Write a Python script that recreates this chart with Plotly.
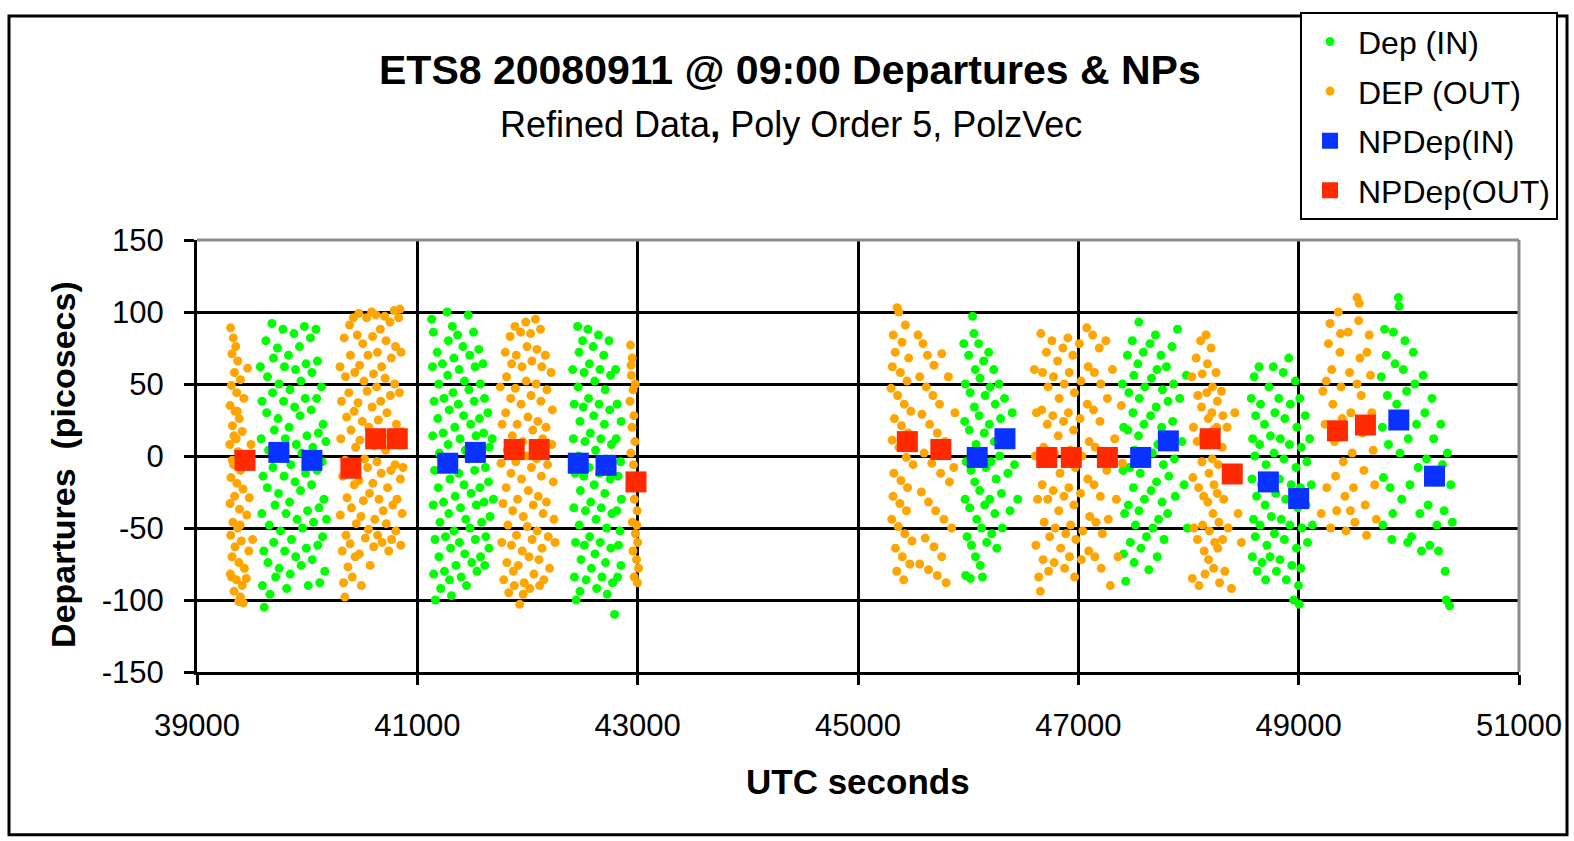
import plotly.graph_objects as go

# ---------------- data ----------------
# Dep (IN) point clouds, (UTC seconds, departure ps)
dep_in_a = [(39575,62),(39590,38),(39582,12),(39600,-14),(39588,-40),(39606,-66),(39594,-90),(39610,-105),(39625,80),(39640,55),(39632,30),(39650,4),(39638,-22),(39656,-48),(39644,-74),(39662,-96),(39680,92),(39694,68),(39686,44),(39702,18),(39690,-8),(39708,-34),(39696,-60),(39714,-84),(39730,75),(39744,50),(39736,26),(39752,0),(39740,-26),(39758,-52),(39746,-78),(39780,88),(39794,62),(39786,38),(39802,12),(39790,-14),(39808,-40),(39796,-66),(39814,-92),(39830,70),(39844,46),(39836,20),(39852,-6),(39840,-32),(39858,-58),(39846,-82),(39880,85),(39894,60),(39886,34),(39902,8),(39890,-18),(39908,-44),(39896,-70),(39930,76),(39944,52),(39936,28),(39952,2),(39940,-24),(39958,-50),(39946,-76),(39975,90),(39990,64),(39982,40),(39998,14),(39986,-12),(40004,-38),(39992,-64),(40010,-90),(40030,82),(40044,58),(40036,32),(40052,6),(40040,-20),(40058,-46),(40046,-72),(40080,88),(40094,66),(40086,40),(40102,16),(40090,-10),(40108,-36),(40096,-62),(40114,-88),(40130,48),(40144,22),(40136,-4),(40152,-30),(40140,-56),(40160,-80),(40170,10),(40175,-44)]
dep_in_b = [(41130,95),(41145,86),(41138,62),(41152,38),(41140,14),(41156,-10),(41144,-34),(41160,-58),(41148,-82),(41164,-100),(41180,72),(41194,50),(41186,26),(41200,2),(41190,-22),(41206,-46),(41196,-70),(41212,-92),(41228,64),(41242,40),(41234,16),(41250,-8),(41238,-32),(41256,-56),(41246,-80),(41270,100),(41282,80),(41276,56),(41290,32),(41280,8),(41296,-16),(41286,-40),(41302,-64),(41292,-86),(41318,90),(41332,68),(41324,44),(41340,20),(41328,-4),(41344,-28),(41334,-52),(41350,-76),(41366,84),(41380,60),(41372,36),(41388,12),(41376,-12),(41392,-36),(41382,-60),(41398,-84),(41414,76),(41428,52),(41420,28),(41436,4),(41424,-20),(41440,-44),(41430,-68),(41446,-90),(41462,98),(41476,70),(41468,46),(41484,22),(41472,-2),(41488,-26),(41478,-50),(41494,-74),(41510,86),(41524,62),(41516,38),(41532,14),(41520,-10),(41536,-34),(41526,-58),(41542,-80),(41558,74),(41572,50),(41564,26),(41580,2),(41568,-22),(41584,-46),(41574,-70),(41596,64),(41610,40),(41602,16),(41618,-8),(41606,-32),(41622,-56),(41612,-76),(41640,30),(41654,6),(41646,-18),(41660,-42),(41650,-64),(41680,12),(41690,-30),(41310,-97)]
dep_in_c = [(42410,60),(42424,36),(42416,12),(42432,-12),(42420,-36),(42436,-60),(42426,-84),(42442,-100),(42455,90),(42468,72),(42460,48),(42476,24),(42464,0),(42480,-24),(42470,-48),(42486,-72),(42476,-94),(42500,80),(42514,58),(42506,34),(42522,10),(42510,-14),(42526,-38),(42516,-62),(42532,-86),(42548,88),(42562,64),(42554,40),(42570,16),(42558,-8),(42574,-32),(42564,-56),(42580,-78),(42596,76),(42610,52),(42602,28),(42618,4),(42606,-20),(42622,-44),(42612,-68),(42628,-92),(42644,84),(42658,60),(42650,36),(42666,12),(42654,-12),(42670,-36),(42660,-60),(42676,-84),(42692,70),(42706,46),(42698,22),(42714,-2),(42702,-26),(42718,-50),(42708,-74),(42724,-96),(42740,80),(42754,56),(42746,32),(42762,8),(42750,-16),(42766,-40),(42756,-64),(42772,-88),(42790,-110),(42800,60),(42814,36),(42806,12),(42822,-14),(42810,-38),(42826,-62),(42818,-84),(42850,24),(42845,-4),(42852,-30),(42840,-52),(42848,-76)]
dep_in_d = [(45960,78),(45975,50),(45968,24),(45982,-4),(45972,-30),(45990,-56),(45978,-83),(46005,70),(46018,44),(46010,18),(46026,-10),(46014,-36),(46030,-62),(46040,97),(46052,85),(46064,60),(46056,34),(46072,8),(46060,-18),(46078,-44),(46066,-70),(46095,78),(46108,54),(46100,28),(46116,2),(46104,-24),(46122,-50),(46110,-76),(46140,66),(46154,42),(46146,16),(46162,-8),(46150,-34),(46168,-60),(46186,72),(46200,48),(46192,22),(46208,-4),(46196,-30),(46214,-54),(46232,60),(46246,36),(46238,10),(46254,-16),(46242,-40),(46260,-64),(46280,50),(46294,26),(46286,0),(46302,-26),(46310,-50),(46330,40),(46345,14),(46360,-12),(46380,-38),(46400,30),(46420,-6),(46450,-30),(46020,-85),(46130,-84)]
dep_in_e = [(47400,50),(47412,20),(47406,-10),(47420,-40),(47410,-68),(47430,-87),(47445,70),(47458,44),(47450,18),(47466,-8),(47454,-34),(47472,-60),(47490,80),(47504,56),(47496,30),(47512,4),(47500,-22),(47518,-48),(47506,-74),(47549,93),(47540,64),(47554,40),(47546,14),(47562,-12),(47550,-38),(47568,-64),(47590,72),(47604,48),(47596,22),(47612,-4),(47600,-30),(47618,-56),(47640,-79),(47650,78),(47664,54),(47656,28),(47672,2),(47660,-24),(47678,-50),(47700,84),(47714,60),(47706,34),(47722,8),(47710,-18),(47728,-44),(47716,-70),(47750,70),(47764,46),(47756,20),(47772,-6),(47760,-32),(47778,-58),(47800,62),(47814,38),(47806,12),(47822,-14),(47810,-40),(47850,76),(47864,50),(47856,24),(47872,-2),(47880,-28),(47900,88),(47920,40),(47940,10),(47960,-20),(47980,56),(47990,-50)]
dep_in_f = [(48570,40),(48582,12),(48576,-16),(48590,-44),(48580,-70),(48596,55),(48610,28),(48602,0),(48618,-28),(48606,-56),(48624,-80),(48640,62),(48654,36),(48646,8),(48662,-20),(48650,-48),(48668,-74),(48690,22),(48704,-6),(48696,-34),(48712,-62),(48700,-86),(48730,48),(48744,14),(48736,-14),(48752,-42),(48740,-70),(48770,62),(48784,30),(48776,2),(48792,-26),(48780,-54),(48798,-80),(48820,40),(48834,12),(48826,-16),(48842,-44),(48830,-72),(48860,58),(48874,26),(48866,-2),(48882,-30),(48870,-58),(48888,-86),(48910,68),(48924,36),(48916,8),(48932,-20),(48920,-48),(48938,-76),(48955,-100),(48970,52),(48984,20),(48976,-8),(48992,-36),(48980,-64),(48998,-90),(49010,40),(49024,6),(49016,-22),(49030,-50),(49020,-78),(49005,-103),(49060,28),(49074,-4),(49066,-34),(49080,-60),(49100,12),(49115,-20),(49125,-48)]
dep_in_g = [(49750,55),(49760,20),(49770,-15),(49765,-48),(49780,88),(49795,70),(49805,42),(49815,8),(49830,-22),(49845,-58),(49860,86),(49875,64),(49890,36),(49905,110),(49912,104),(49920,2),(49935,-30),(49950,60),(49965,80),(49980,45),(49995,12),(50010,-20),(50025,-56),(50040,72),(50055,50),(50070,22),(50085,-8),(50100,-40),(50115,-66),(50130,56),(50145,30),(50160,-2),(50175,-34),(50190,-62),(50210,40),(50225,12),(50240,-18),(50255,-48),(50270,-66),(50290,22),(50305,-6),(50320,-38),(50330,-80),(50340,-100),(50370,-104),(50380,-20),(50395,-46),(50350,2),(49990,-60),(49855,-40)]

# DEP (OUT) point clouds
dep_out_a = [(39305,89),(39330,82),(39352,76),(39318,71),(39370,66),(39340,58),(39395,53),(39312,49),(39360,44),(39425,40),(39300,35),(39345,31),(39384,26),(39322,21),(39410,17),(39356,12),(39298,8),(39372,3),(39440,-1),(39333,-6),(39395,-10),(39308,-15),(39362,-19),(39418,-23),(39341,-28),(39300,-33),(39386,-37),(39452,-41),(39326,-46),(39369,-50),(39306,-55),(39402,-59),(39345,-63),(39470,-66),(39318,-70),(39380,-74),(39430,-78),(39302,-82),(39358,-86),(39410,-90),(39336,-94),(39395,-98),(39420,-102),(39378,-101),(39475,-29),(39490,8),(39505,-58),(39460,61),(39335,14),(39392,-48),(39314,-84),(39366,31),(39448,-85),(39320,-3)]
dep_out_b = [(40298,62),(40312,38),(40305,12),(40322,-14),(40301,-41),(40318,-66),(40330,-88),(40342,-98),(40336,82),(40348,55),(40358,27),(40344,-3),(40362,-29),(40352,-55),(40370,-77),(40385,91),(40392,70),(40378,44),(40398,18),(40386,-9),(40402,-36),(40390,-61),(40410,-84),(40420,96),(40432,58),(40426,31),(40440,6),(40428,-20),(40446,-47),(40436,-70),(40455,84),(40468,99),(40476,63),(40462,37),(40480,11),(40470,-17),(40488,-42),(40474,-68),(40492,-90),(40505,78),(40516,52),(40500,24),(40522,-2),(40510,-31),(40528,-57),(40540,96),(40552,70),(40544,45),(40560,20),(40548,-8),(40566,-26),(40556,-51),(40572,-76),(40585,100),(40594,83),(40602,57),(40590,34),(40608,7),(40596,-19),(40614,-44),(40604,-63),(40625,98),(40638,72),(40630,48),(40646,25),(40634,-4),(40652,-30),(40640,-55),(40664,88),(40676,62),(40668,38),(40684,14),(40672,-12),(40690,-38),(40680,-60),(40704,97),(40716,80),(40708,54),(40724,30),(40712,4),(40730,-22),(40718,-47),(40740,-66),(40752,93),(40764,68),(40756,42),(40772,16),(40760,-10),(40778,-34),(40766,-58),(40790,101),(40802,76),(40794,50),(40810,22),(40798,-6),(40816,-30),(40804,-52),(40830,96),(40842,102),(40852,72),(40838,44),(40858,17),(40846,-16),(40862,-40),(40850,-62),(40870,-8)]
dep_out_c = [(41752,48),(41770,22),(41760,-5),(41778,-33),(41766,-60),(41784,-86),(41798,72),(41810,55),(41802,30),(41818,4),(41806,-22),(41822,-48),(41812,-74),(41830,-95),(41842,83),(41856,64),(41848,40),(41862,14),(41850,-12),(41866,-38),(41854,-62),(41872,-80),(41886,90),(41898,70),(41890,47),(41906,22),(41894,-4),(41910,-30),(41900,-55),(41916,-76),(41930,-103),(41938,86),(41950,62),(41942,36),(41958,10),(41946,-16),(41962,-42),(41952,-66),(41970,-88),(41984,93),(41996,76),(41988,52),(42004,27),(41992,0),(42008,-24),(41998,-49),(42014,-70),(42028,85),(42040,66),(42032,42),(42048,18),(42036,-8),(42052,-34),(42042,-58),(42058,-82),(42072,95),(42086,74),(42078,50),(42094,24),(42082,-2),(42098,-28),(42088,-52),(42104,-72),(42118,88),(42130,62),(42122,38),(42138,12),(42126,-14),(42142,-40),(42132,-64),(42148,-86),(42162,70),(42176,46),(42168,20),(42182,-6),(42172,-32),(42188,-56),(42200,-78),(42214,58),(42226,32),(42220,8),(42234,-18),(42240,-44),(42250,-60),(41880,-90),(41960,-96),(42020,-92),(42110,-90)]
dep_out_d = [(42935,77),(42950,68),(42942,56),(42958,46),(42930,38),(42966,28),(42948,20),(42975,10),(42938,2),(42962,-6),(42985,-14),(42944,-22),(42970,-30),(42995,-38),(42952,-46),(42980,-54),(43000,-60),(42958,-66),(42990,-72),(43008,-78),(42968,-84),(42998,-88),(42940,63),(42978,50),(42955,-16),(42992,-48)]
dep_out_e = [(45355,103),(45370,100),(45430,91),(45320,84),(45400,79),(45338,72),(45460,68),(45312,62),(45385,58),(45445,52),(45300,47),(45360,42),(45420,36),(45480,31),(45330,26),(45395,21),(45455,16),(45310,11),(45372,6),(45438,-1),(45500,-6),(45325,-12),(45390,-17),(45450,-22),(45318,-28),(45380,-33),(45440,-38),(45306,-44),(45365,-49),(45425,-54),(45490,-59),(45340,-64),(45402,-70),(45470,-75),(45352,-80),(45415,-86),(45545,84),(45590,78),(45630,70),(45690,63),(45560,55),(45620,48),(45680,42),(45740,36),(45580,29),(45650,22),(45720,16),(45790,10),(45600,2),(45670,-5),(45750,-12),(45830,-18),(45575,-25),(45640,-32),(45705,-38),(45780,-44),(45850,-50),(45610,-57),(45690,-63),(45760,-70),(45560,-75),(45640,-79),(45720,-83),(45800,-88),(45870,-8),(45880,30),(45820,55),(45760,71)]
dep_out_f = [(46600,60),(46620,30),(46610,0),(46630,-30),(46615,-62),(46640,-84),(46660,85),(46675,58),(46668,32),(46685,6),(46672,-20),(46690,-46),(46680,-72),(46655,-94),(46710,72),(46725,48),(46718,22),(46735,-4),(46722,-30),(46740,-56),(46730,-80),(46760,80),(46775,55),(46768,28),(46785,2),(46772,-24),(46790,-50),(46780,-74),(46812,66),(46826,40),(46818,14),(46834,-12),(46822,-38),(46840,-64),(46860,75),(46872,50),(46866,24),(46880,-2),(46870,-28),(46886,-54),(46876,-78),(46905,82),(46918,58),(46910,30),(46926,4),(46914,-22),(46930,-48),(46920,-70),(46950,70),(46964,44),(46956,18),(46972,-8),(46960,-34),(46978,-58),(46966,-84),(47010,78),(47024,52),(47016,26),(47032,0),(47020,-26),(47040,-52),(47028,-72),(47076,89),(47090,62),(47082,36),(47098,10),(47086,-16),(47104,-42),(47094,-66),(47130,84),(47146,58),(47138,32),(47154,6),(47142,-20),(47160,-46),(47150,-70),(47190,75),(47204,50),(47196,24),(47212,-2),(47200,-28),(47218,-54),(47208,-78),(47250,80),(47264,40),(47258,-10),(47272,-44),(47290,-90),(47310,60),(47330,12),(47345,-30),(47360,-70),(47390,35),(47400,-5)]
dep_out_g = [(48030,55),(48045,20),(48040,-15),(48050,-50),(48035,-85),(48070,68),(48085,42),(48078,10),(48092,-22),(48082,-58),(48095,-90),(48110,80),(48125,57),(48118,34),(48132,14),(48122,-4),(48138,-28),(48128,-48),(48142,-66),(48150,-82),(48160,84),(48172,64),(48166,44),(48180,26),(48170,8),(48186,-12),(48176,-32),(48190,-52),(48182,-72),(48205,75),(48218,48),(48212,30),(48226,18),(48216,-2),(48232,-20),(48222,-40),(48238,-60),(48228,-78),(48250,58),(48262,38),(48256,20),(48270,-6),(48260,-26),(48276,-46),(48266,-64),(48282,-88),(48300,45),(48312,28),(48306,6),(48320,-30),(48310,-58),(48330,-80),(48350,20),(48370,-15),(48360,-50),(48390,-92),(48420,30),(48450,-40),(48480,-60)]
dep_out_h = [(49220,45),(49205,-40),(49240,22),(49255,-22),(49270,78),(49285,92),(49300,60),(49310,36),(49325,10),(49335,-14),(49345,-38),(49360,100),(49375,72),(49385,48),(49395,26),(49405,-4),(49420,-28),(49430,-52),(49450,86),(49462,58),(49474,30),(49486,2),(49498,-22),(49510,-46),(49530,110),(49544,94),(49556,68),(49568,42),(49580,16),(49592,-10),(49604,-34),(49616,-55),(49640,84),(49652,56),(49664,30),(49676,4),(49690,-20),(49705,-44),(49550,106),(49380,85),(49290,-50),(49620,72),(49470,-38),(49530,50),(49250,52)]

# Normal points
np_in_x = [39743, 40043, 41276, 41527, 42461, 42713, 46082, 46334, 47566, 47817, 48725, 49000, 49909, 50233]
np_in_y = [2.5, -3, -5, 2.5, -5, -6.5, -1, 12, -1, 10.5, -18, -29.5, 25, -14]
np_out_x = [39436, 40397, 40622, 40818, 41879, 42106, 42985, 45448, 45752, 46713, 46936, 47264, 48197, 48397, 49352, 49606]
np_out_y = [-3, -8.5, 12, 12, 4.5, 4.5, -18, 10, 4.5, -1, -1, -1, 12, -12.5, 17.5, 21.5]

x_ticks = [39000, 41000, 43000, 45000, 47000, 49000, 51000]
y_ticks = [-150, -100, -50, 0, 50, 100, 150]

dep_in = dep_in_a + dep_in_b + dep_in_c + dep_in_d + dep_in_e + dep_in_f + dep_in_g
dep_out = dep_out_a + dep_out_b + dep_out_c + dep_out_d + dep_out_e + dep_out_f + dep_out_g + dep_out_h
dep_in_x = [p[0] for p in dep_in]
dep_in_y = [p[1] for p in dep_in]
dep_out_x = [p[0] for p in dep_out]
dep_out_y = [p[1] for p in dep_out]

# ---------------- figure ----------------
W, H = 1574, 841
L, R, T, B = 197, 1519, 234, 672  # plot area in pixels


def px(x):
    return (x - L) / (R - L)


def py(y):
    return (B - y) / (B - T)


FONT = "Liberation Sans, Arial, sans-serif"

fig = go.Figure()
fig.add_trace(go.Scatter(x=dep_in_x, y=dep_in_y, mode="markers", name="Dep (IN)",
                         legendgroup="g1",
                         marker=dict(color="#00FF00", size=9, symbol="circle", line=dict(width=0))))
fig.add_trace(go.Scatter(x=dep_out_x, y=dep_out_y, mode="markers", name="DEP (OUT)",
                         legendgroup="g2",
                         marker=dict(color="#FFA500", size=9, symbol="circle", line=dict(width=0))))
fig.add_trace(go.Scatter(x=np_in_x, y=np_in_y, mode="markers", name="NPDep(IN)",
                         legendgroup="g3",
                         marker=dict(color="#0A32FF", size=21, symbol="square", line=dict(width=0))))
fig.add_trace(go.Scatter(x=np_out_x, y=np_out_y, mode="markers", name="NPDep(OUT)",
                         legendgroup="g4",
                         marker=dict(color="#FF2A00", size=21, symbol="square", line=dict(width=0))))

fig.update_layout(
    width=W, height=H,
    margin=dict(l=L, r=W - R, t=T, b=H - B, pad=0),
    paper_bgcolor="white", plot_bgcolor="white",
    font=dict(family=FONT, color="black", size=28),
    showlegend=True,
    legend=dict(x=px(1300), y=py(3), xanchor="left", yanchor="top",
                bgcolor="white", bordercolor="black", borderwidth=2,
                font=dict(family=FONT, size=32, color="black"),
                tracegroupgap=5, itemsizing="trace", itemwidth=46),
    xaxis=dict(range=[39000, 51000], tickvals=x_ticks, ticktext=[str(v) for v in x_ticks],
               showgrid=True, gridcolor="black", gridwidth=3,
               showline=True, linecolor="black", linewidth=3,
               ticks="outside", ticklen=10, tickwidth=3, tickcolor="black",
               tickfont=dict(family=FONT, size=31, color="black"),
               ticklabelstandoff=14, zeroline=False),
    yaxis=dict(range=[-150, 150], tickvals=y_ticks, ticktext=[str(v) for v in y_ticks],
               showgrid=True, gridcolor="black", gridwidth=3,
               showline=True, linecolor="black", linewidth=3,
               ticks="outside", ticklen=10, tickwidth=3, tickcolor="black",
               tickfont=dict(family=FONT, size=31, color="black"),
               ticklabelstandoff=14, zeroline=True, zerolinecolor="black", zerolinewidth=3),
)

# gray plot-area border (top and right)
fig.add_shape(type="line", xref="paper", yref="paper", x0=0, x1=1, y0=1, y1=1,
              line=dict(color="#8C8C8C", width=3))
fig.add_shape(type="line", xref="paper", yref="paper", x0=1, x1=1, y0=0, y1=1,
              line=dict(color="#8C8C8C", width=3))
# outer chart border
fig.add_shape(type="rect", xref="paper", yref="paper",
              x0=px(9), x1=px(1567), y0=py(837), y1=py(7),
              line=dict(color="black", width=3), fillcolor="rgba(0,0,0,0)", layer="below")

# titles
fig.add_annotation(text="ETS8 20080911 @ 09:00 Departures & NPs", xref="paper", yref="paper",
                   x=px(790), y=py(62), showarrow=False, xanchor="center", yanchor="middle",
                   font=dict(family=FONT, size=41, color="black", weight="bold"))
fig.add_annotation(text="Refined Data<b>,</b> Poly Order 5, PolzVec", xref="paper", yref="paper",
                   x=px(791), y=py(117), showarrow=False, xanchor="center", yanchor="middle",
                   font=dict(family=FONT, size=36, color="black"))
fig.add_annotation(text="Departures  (picosecs)", xref="paper", yref="paper",
                   x=px(63), y=py(462), showarrow=False, textangle=-90,
                   xanchor="center", yanchor="middle",
                   font=dict(family=FONT, size=34, color="black", weight="bold"))
fig.add_annotation(text="UTC seconds", xref="paper", yref="paper",
                   x=px(858), y=py(783), showarrow=False, xanchor="center", yanchor="middle",
                   font=dict(family=FONT, size=35, color="black", weight="bold"))

fig.write_html("out.html", config={"displayModeBar": False},
               post_script="document.body.style.margin='0';document.body.style.overflow='hidden';")
